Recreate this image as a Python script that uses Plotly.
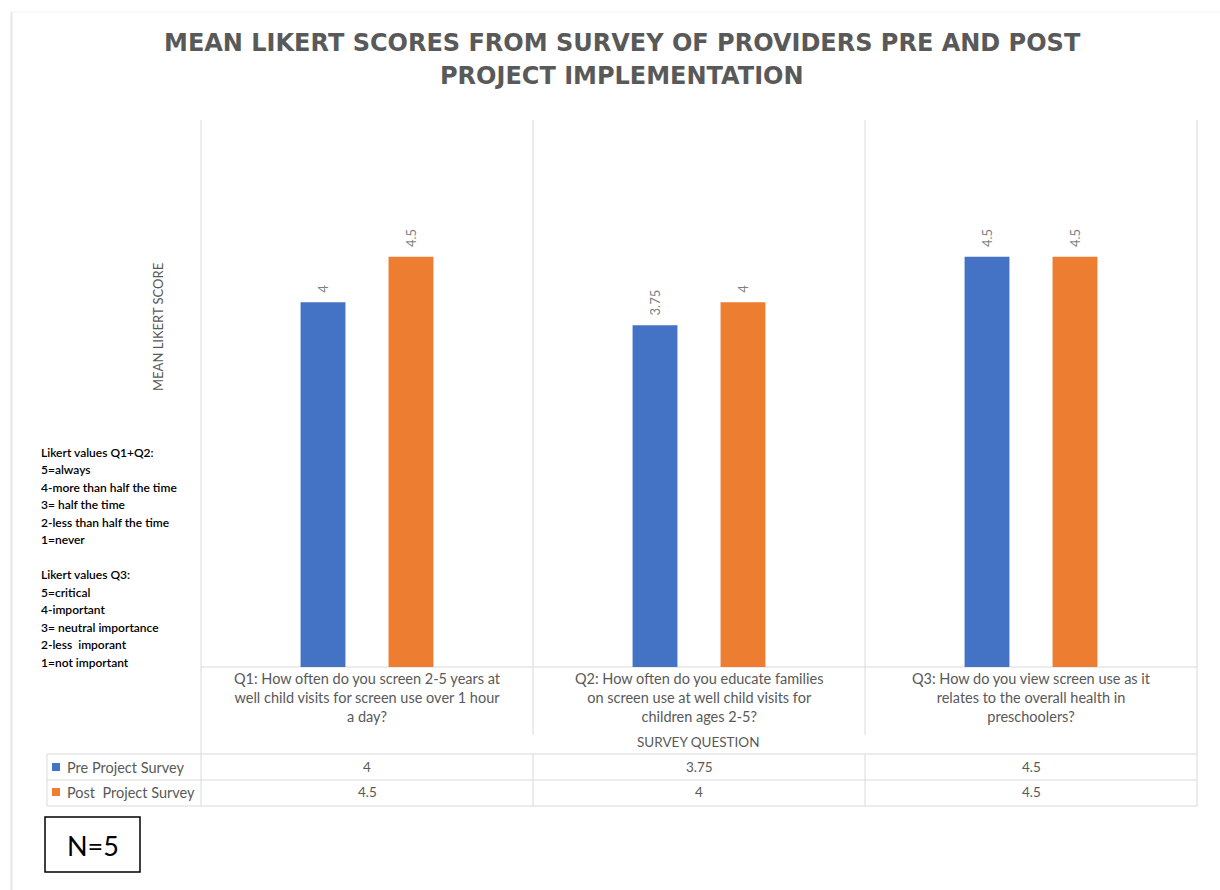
import plotly.graph_objects as go

W, H = 1220, 890

categories = ["Q1", "Q2", "Q3"]
category_labels = [
    "Q1: How often do you screen 2-5 years at<br>well child visits for screen use over 1 hour<br>a day?",
    "Q2: How often do you educate families<br>on screen use at well child visits for<br>children ages 2-5?",
    "Q3: How do you view screen use as it<br>relates to the overall health in<br>preschoolers?",
]
series_names = ["Pre Project Survey", "Post  Project Survey"]
pre_values = [4, 3.75, 4.5]
post_values = [4.5, 4, 4.5]
colors = ["#4472C4", "#ED7D31"]

title_lines = ["MEAN LIKERT SCORES FROM SURVEY OF PROVIDERS PRE AND POST",
               "PROJECT IMPLEMENTATION"]
likert_lines = [
    "Likert values Q1+Q2:", "5=always", "4-more than half the time", "3= half the time",
    "2-less than half the time", "1=never", "",
    "Likert values Q3:", "5=critical", "4-important", "3= neutral importance",
    "2-less  imporant", "1=not important",
]


def px(x):
    return x / W


def py(y):
    return 1 - y / H


PLOT_L, PLOT_R, PLOT_T, PLOT_B = 201, 1197, 120, 667
GRID = "#d9d9d9"
TXT = "#595959"
FONT = "Lato"

fig = go.Figure()
for name, vals, col in zip(series_names, [pre_values, post_values], colors):
    fig.add_trace(go.Bar(
        x=categories, y=vals, name=name, marker=dict(color=col, line=dict(width=0)),
        text=["\u00a0\u00a0" + f"{v:g}" for v in vals], textposition="outside", textangle=-90,
        textfont=dict(family=FONT, size=13, color="#7f7f7f"), cliponaxis=False,
    ))

shapes = []


def hline(y, x0, x1, color=GRID, w=1):
    shapes.append(dict(type="line", xref="paper", yref="paper", x0=px(x0), x1=px(x1),
                       y0=py(y), y1=py(y), line=dict(color=color, width=w), layer="below"))


def vline(x, y0, y1, color=GRID, w=1):
    shapes.append(dict(type="line", xref="paper", yref="paper", x0=px(x), x1=px(x),
                       y0=py(y0), y1=py(y1), line=dict(color=color, width=w), layer="below"))


# outer chart frame (faint)
vline(11.5, 12, H, color="#e6e6e6", w=2)
hline(12, 11, W, color="#f3f3f3", w=1)

# plot-area vertical gridlines at category boundaries
cat_w = (PLOT_R - PLOT_L) / len(categories)
for i in range(len(categories) + 1):
    xb = PLOT_L + i * cat_w
    if i in (0, len(categories)):
        vline(xb, PLOT_T, 806)
    else:
        vline(xb, PLOT_T, 735)
        vline(xb, 754, 806)

# baseline & table horizontal lines
hline(PLOT_B, PLOT_L, PLOT_R)
for yy in (754, 780, 806):
    hline(yy, 47, PLOT_R)
vline(47, 754, 806)

# legend keys in table
for i, col in enumerate(colors):
    yc = 767 + i * 25
    shapes.append(dict(type="rect", xref="paper", yref="paper", x0=px(52), x1=px(60),
                       y0=py(yc + 4), y1=py(yc - 4), fillcolor=col, line=dict(width=0)))

# N=5 box
shapes.append(dict(type="rect", xref="paper", yref="paper", x0=px(45), x1=px(140),
                   y0=py(872), y1=py(817), line=dict(color="#000000", width=1.5),
                   fillcolor="rgba(0,0,0,0)"))

annotations = []
# title
for i, t in enumerate(title_lines):
    annotations.append(dict(text=t, x=px(622), y=py(43 + i * 33), xref="paper", yref="paper",
                            showarrow=False, xanchor="center", yanchor="middle",
                            font=dict(family="DejaVu Sans", size=24, color=TXT, weight="bold")))
# y axis title
annotations.append(dict(text="MEAN LIKERT SCORE", x=px(158), y=py(327), xref="paper", yref="paper",
                        showarrow=False, textangle=-90, xanchor="center", yanchor="middle",
                        font=dict(family=FONT, size=13, color=TXT)))
# category labels
for c, lab in zip(categories, category_labels):
    annotations.append(dict(text=lab, x=c, y=py(668), xref="x", yref="paper", showarrow=False,
                            xanchor="center", yanchor="top", align="center",
                            font=dict(family=FONT, size=14.5, color=TXT)))
annotations.append(dict(text="SURVEY QUESTION", x=px(698), y=py(742), xref="paper", yref="paper",
                        showarrow=False, xanchor="center", yanchor="middle",
                        font=dict(family=FONT, size=13.5, color=TXT)))
# data table
for r, (name, vals) in enumerate(zip(series_names, [pre_values, post_values])):
    yc = 767 + r * 25
    annotations.append(dict(text=name, x=px(65), y=py(yc), xref="paper", yref="paper",
                            showarrow=False, xanchor="left", yanchor="middle",
                            font=dict(family=FONT, size=14.5, color=TXT)))
    for c, v in zip(categories, vals):
        annotations.append(dict(text=f"{v:g}", x=c, y=py(yc), xref="x", yref="paper",
                                showarrow=False, xanchor="center", yanchor="middle",
                                font=dict(family=FONT, size=13.5, color=TXT)))
# likert key text
for i, t in enumerate(likert_lines):
    if not t:
        continue
    annotations.append(dict(text=t, x=px(39), y=py(452 + i * 17.5), xref="paper", yref="paper",
                            showarrow=False, xanchor="left", yanchor="middle",
                            font=dict(family=FONT, size=12, color="#000000", weight=600)))
# N=5
annotations.append(dict(text="N=5", x=px(92.5), y=py(845), xref="paper", yref="paper",
                        showarrow=False, xanchor="center", yanchor="middle",
                        font=dict(family=FONT, size=27, color="#000000")))

fig.update_layout(
    width=W, height=H, margin=dict(l=0, r=0, t=0, b=0),
    paper_bgcolor="white", plot_bgcolor="white",
    barmode="group", bargap=0.47, bargroupgap=0.49,
    showlegend=False,
    xaxis=dict(domain=[px(PLOT_L), px(PLOT_R)], range=[-0.5, 2.5], showticklabels=False,
               showgrid=False, zeroline=False, showline=False, fixedrange=True),
    yaxis=dict(domain=[py(PLOT_B), py(PLOT_T)], range=[0, 6], showticklabels=False,
               showgrid=False, zeroline=False, showline=False, fixedrange=True),
    shapes=shapes, annotations=annotations,
)

fig.write_html("out.html")
